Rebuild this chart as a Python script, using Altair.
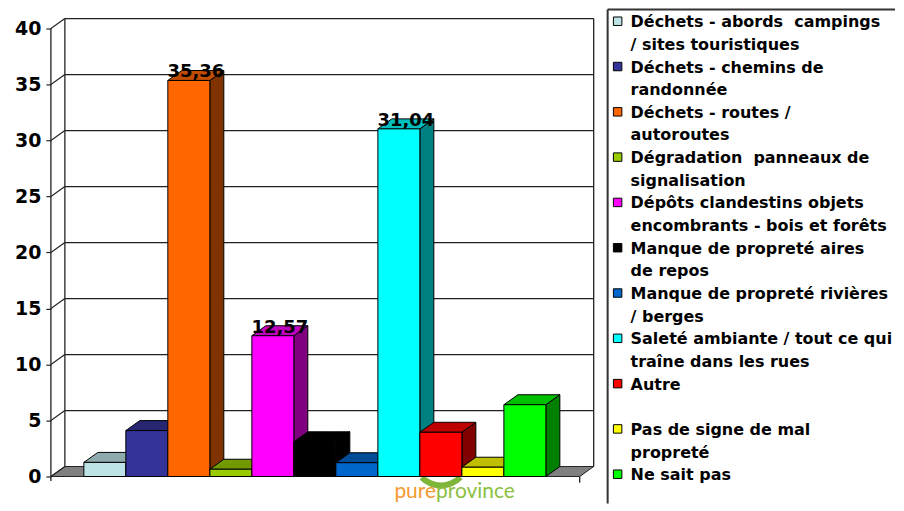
import altair as alt
import pandas as pd

# ---------------- data ----------------
categories = [
    "Déchets - abords campings / sites touristiques",
    "Déchets - chemins de randonnée",
    "Déchets - routes / autoroutes",
    "Dégradation panneaux de signalisation",
    "Dépôts clandestins objets encombrants - bois et forêts",
    "Manque de propreté aires de repos",
    "Manque de propreté rivières / berges",
    "Saleté ambiante / tout ce qui traîne dans les rues",
    "Autre",
    "Pas de signe de mal propreté",
    "Ne sait pas",
]
values = [1.26, 4.1, 35.36, 0.65, 12.57, 3.1, 1.23, 31.04, 3.95, 0.83, 6.41]
front_colors = ["#BDE3E6", "#333399", "#FF6600", "#99CC00", "#FF00FF", "#000000",
                "#0066CC", "#00FFFF", "#FF0000", "#FFFF00", "#00FF00"]
top_colors = ["#8EAAAC", "#262673", "#BF4C00", "#739900", "#BF00BF", "#000000",
              "#004C99", "#00BFBF", "#BF0000", "#BFBF00", "#00BF00"]
side_colors = ["#5F7173", "#1A1A4D", "#803300", "#4D6600", "#800080", "#000000",
               "#003366", "#008080", "#800000", "#808000", "#008000"]
legend_lines = [
    ["Déchets - abords\u00a0\u00a0campings", "/ sites touristiques"],
    ["Déchets - chemins de", "randonnée"],
    ["Déchets - routes /", "autoroutes"],
    ["Dégradation\u00a0\u00a0panneaux de", "signalisation"],
    ["Dépôts clandestins objets", "encombrants - bois et forêts"],
    ["Manque de propreté aires", "de repos"],
    ["Manque de propreté rivières", "/ berges"],
    ["Saleté ambiante / tout ce qui", "traîne dans les rues"],
    ["Autre", ""],
    ["Pas de signe de mal", "propreté"],
    ["Ne sait pas"],
]
y_ticks = [0, 5, 10, 15, 20, 25, 30, 35, 40]
label_threshold = 10

# ---------------- layout ----------------
W, H = 545, 495
BAR_PX = 42.1
Y_PX = 11.225
ZERO_PX = 468
DX = 14 / BAR_PX
DY = 10 / Y_PX
GAP = 33 / BAR_PX
FLOOR_W = 530 / BAR_PX
X_MAX = W / BAR_PX
Y_MIN = -(H - ZERO_PX) / Y_PX
Y_MAX = ZERO_PX / Y_PX
TOP = y_ticks[-1]

xs = alt.Scale(domain=[0, X_MAX], nice=False, zero=False)
ys = alt.Scale(domain=[Y_MIN, Y_MAX], nice=False, zero=False)

front_rows, side_rows, top_rows, label_rows = [], [], [], []
for i, v in enumerate(values):
    xl = GAP + i
    xr = xl + 1
    front_rows.append({"bar": i, "xl": xl, "xr": xr, "v": v, "base": 0.0, "c": front_colors[i]})
    side_rows += [
        {"bar": i, "x": xr, "y": v, "y2": 0.0, "c": side_colors[i]},
        {"bar": i, "x": xr + DX, "y": v + DY, "y2": DY, "c": side_colors[i]},
    ]
    top_rows += [
        {"bar": i, "x": xl, "y": v, "y2": v, "c": top_colors[i]},
        {"bar": i, "x": xl + DX, "y": v + DY, "y2": v, "c": top_colors[i]},
        {"bar": i, "x": xr, "y": v + DY, "y2": v, "c": top_colors[i]},
        {"bar": i, "x": xr + DX, "y": v + DY, "y2": v + DY, "c": top_colors[i]},
    ]
    if v > label_threshold:
        label_rows.append({"lx": xl + 0.5 + DX / 2, "v": v,
                           "label": f"{v:.2f}".replace(".", ",")})

front_df = pd.DataFrame(front_rows)
side_df = pd.DataFrame(side_rows)
top_df = pd.DataFrame(top_rows)
label_df = pd.DataFrame(label_rows)

floor_df = pd.DataFrame([
    {"x": 0.0, "y": 0.0, "y2": 0.0},
    {"x": DX, "y": DY, "y2": 0.0},
    {"x": FLOOR_W, "y": DY, "y2": 0.0},
    {"x": FLOOR_W + DX, "y": DY, "y2": DY},
])
grid_df = pd.DataFrame({"x": DX, "x2": FLOOR_W + DX, "y": [k + DY for k in y_ticks[1:]]})
diag_df = pd.DataFrame({"x": 0.0, "x2": DX, "y": y_ticks, "y2": [k + DY for k in y_ticks]})
wall_df = pd.DataFrame({"x": [DX, FLOOR_W + DX], "y": DY, "y2": TOP + DY})
axis_df = pd.DataFrame({"x": [0.0, FLOOR_W], "y": [-0.4, -0.55], "y2": [TOP, 0.0]})

yaxis = alt.Axis(values=y_ticks, labelFont="DejaVu Sans", labelFontSize=19,
                 labelFontWeight="bold", labelColor="black", tickSize=5,
                 tickColor="#222222", tickWidth=1.2, labelPadding=5,
                 domain=False, grid=False, title=None)


def Y(field):
    return alt.Y(field, scale=ys, axis=yaxis)


def X(field):
    return alt.X(field, scale=xs, axis=None)


LINE = "#222222"

floor = alt.Chart(floor_df).mark_area(color="#808080", stroke=LINE, strokeWidth=1, opacity=1).encode(
    x=X("x:Q"), y=Y("y:Q"), y2="y2:Q",
)
grid = alt.Chart(grid_df).mark_rule(color=LINE, strokeWidth=1.3).encode(
    x=X("x:Q"), x2="x2:Q", y=Y("y:Q"),
)
diag = alt.Chart(diag_df).mark_rule(color=LINE, strokeWidth=1.1).encode(
    x=X("x:Q"), x2="x2:Q", y=Y("y:Q"), y2="y2:Q",
)
walls = alt.Chart(wall_df).mark_rule(color=LINE, strokeWidth=1.3).encode(
    x=X("x:Q"), y=Y("y:Q"), y2="y2:Q",
)
axis_line = alt.Chart(axis_df).mark_rule(color=LINE, strokeWidth=1.3).encode(
    x=X("x:Q"), y=Y("y:Q"), y2="y2:Q",
)
swoosh = alt.Chart(pd.DataFrame({"a": [0]})).mark_arc(
    theta=2.34, theta2=3.94, radius=30, radius2=24, color="#7FB539"
).encode(x=alt.value(391), y=alt.value(450))

side = alt.Chart(side_df).mark_area(stroke="black", strokeWidth=1, opacity=1).encode(
    x=X("x:Q"), y=Y("y:Q"), y2="y2:Q",
    detail="bar:N",
    color=alt.Color("c:N", scale=None),
)
top = alt.Chart(top_df).mark_area(stroke="black", strokeWidth=1, opacity=1).encode(
    x=X("x:Q"), y=Y("y:Q"), y2="y2:Q",
    detail="bar:N",
    color=alt.Color("c:N", scale=None),
)
front = alt.Chart(front_df).mark_rect(stroke="black", strokeWidth=1).encode(
    x=X("xl:Q"), x2="xr:Q", y=Y("v:Q"), y2="base:Q",
    color=alt.Color("c:N", scale=None),
)
labels = alt.Chart(label_df).mark_text(
    font="DejaVu Sans", fontSize=18, fontWeight="bold", color="black",
    baseline="alphabetic", align="center", dy=-3
).encode(
    x=X("lx:Q"), y=Y("v:Q"), text="label:N",
)
logo_df = pd.DataFrame({"a": [0]})
logo1 = alt.Chart(logo_df).mark_text(
    text="pure", font="Lato", fontSize=21, color="#F39A30", align="right", baseline="alphabetic"
).encode(x=alt.value(386), y=alt.value(490))
logo2 = alt.Chart(logo_df).mark_text(
    text="province", font="Lato", fontSize=21, color="#8CC03F", align="left", baseline="alphabetic"
).encode(x=alt.value(386), y=alt.value(490))

bars = alt.layer(floor, grid, diag, walls, axis_line, swoosh, side, top, front, labels,
                 logo1, logo2).properties(width=W, height=H)

# ---------------- legend ----------------
LW = 288
LINE_PX = 22.7
L_MAX = H / LINE_PX
text_rows, sq_rows = [], []
for i, lines in enumerate(legend_lines):
    k0 = 2 * i
    sq_rows.append({"ys": k0 + 11.7 / LINE_PX, "c": front_colors[i]})
    for j, t in enumerate(lines):
        if t:
            text_rows.append({"yb": k0 + j + 17.7 / LINE_PX, "t": t})
text_df = pd.DataFrame(text_rows)
sq_df = pd.DataFrame(sq_rows)
lys = alt.Scale(domain=[0, L_MAX], nice=False, zero=False, reverse=True)

dummy = pd.DataFrame({"a": [0]})
lb = alt.Chart(dummy).mark_rule(color="#333333", strokeWidth=2).encode(
    x=alt.value(0), y=alt.value(0), y2=alt.value(H))
tb = alt.Chart(dummy).mark_rule(color="#333333", strokeWidth=2).encode(
    x=alt.value(0), x2=alt.value(LW), y=alt.value(0))
squares = alt.Chart(sq_df).mark_square(size=72, stroke="black", strokeWidth=1,
                                        opacity=1, filled=True).encode(
    x=alt.value(10),
    y=alt.Y("ys:Q", scale=lys, axis=None),
    color=alt.Color("c:N", scale=None),
)
texts = alt.Chart(text_df).mark_text(
    font="DejaVu Sans", fontSize=16, fontWeight="bold", color="black",
    align="left", baseline="alphabetic", limit=266
).encode(
    x=alt.value(23),
    y=alt.Y("yb:Q", scale=lys, axis=None),
    text="t:N",
)
legend = alt.layer(lb, tb, squares, texts).properties(width=LW, height=H)

chart = alt.hconcat(bars, legend, spacing=11).configure_view(stroke=None).properties(
    padding={"left": 6, "top": 0, "right": 0, "bottom": 0}, background="white"
)
chart.save("out.html", embed_options={"renderer": "svg", "actions": False})
